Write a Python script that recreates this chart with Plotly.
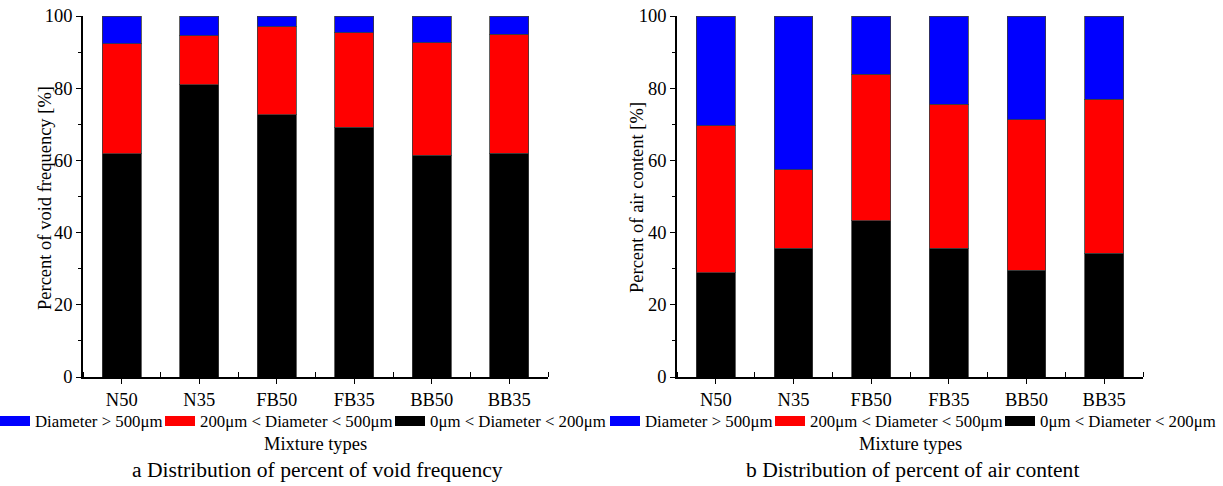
import plotly.graph_objects as go

categories = ["N50", "N35", "FB50", "FB35", "BB50", "BB35"]
series_names = ["0μm &lt; Diameter &lt; 200μm", "200μm &lt; Diameter &lt; 500μm", "Diameter &gt; 500μm"]
series_colors = ["#000000", "#ff0000", "#0000ff"]

# a: percent of void frequency
void_small = [61.9, 80.9, 72.6, 69.2, 61.4, 62.0]
void_mid = [30.4, 13.6, 24.4, 26.2, 31.2, 33.0]
void_large = [7.7, 5.5, 3.0, 4.6, 7.4, 5.0]

# b: percent of air content
air_small = [28.9, 35.7, 43.3, 35.6, 29.6, 34.3]
air_mid = [40.7, 21.7, 40.6, 39.9, 41.6, 42.7]
air_large = [30.4, 42.6, 16.1, 24.5, 28.8, 23.0]

y_ticks = [0, 20, 40, 60, 80, 100]
y_titles = ["Percent of void frequency [%]", "Percent of air content [%]"]
captions = ["a Distribution of percent of void frequency", "b Distribution of percent of air content"]
x_title = "Mixture types"

FONT = "Liberation Serif"
W, H = 1223, 486
xpos = list(range(len(categories)))


def px_x(p):
    return p / W


def px_y(p):
    return 1 - p / H


# legend text start positions (px) for each panel, in legend order: small, mid, large
legend_text_x = [[431, 201, 36], [1041, 811, 646]]

fig = go.Figure()
panels = [
    ([void_small, void_mid, void_large], "x", "y"),
    ([air_small, air_mid, air_large], "x2", "y2"),
]
legend_layouts = {}
leg_i = 0
for p, (data, xa, ya) in enumerate(panels):
    for name, vals, col in zip(series_names, data, series_colors):
        fig.add_trace(go.Bar(
            x=xpos, y=vals, name=name, xaxis=xa, yaxis=ya, showlegend=False,
            marker=dict(color=col, line=dict(color="rgba(60,60,60,0.8)", width=1)),
            width=0.5,
        ))
    # legend swatches (legend-only entries, no data drawn)
    for s, (name, col) in enumerate(zip(series_names, series_colors)):
        leg_i += 1
        key = "legend" if leg_i == 1 else f"legend{leg_i}"
        fig.add_trace(go.Scatter(
            x=[None], y=[None], mode="lines", name=name, xaxis=xa, yaxis=ya,
            legend=key, line=dict(color=col, width=10),
        ))
        legend_layouts[key] = dict(
            orientation="h", yanchor="middle", xanchor="left",
            x=px_x(legend_text_x[p][s] - 41), y=px_y(421),
            font=dict(family=FONT, size=16.8, color="black"),
            bgcolor="rgba(0,0,0,0)", borderwidth=0, itemwidth=30,
        )

xdoms = [[px_x(83), px_x(548)], [px_x(677), px_x(1143)]]
ydom = [px_y(377), px_y(16)]

common_x = dict(
    range=[-0.5, 5.5], tickvals=xpos, ticktext=categories,
    showline=True, linecolor="black", linewidth=1.5,
    ticks="outside", ticklen=5, tickcolor="black", tickwidth=1,
    showgrid=False, zeroline=False, automargin=False,
    tickfont=dict(family=FONT, size=18.5, color="black"),
    minor=dict(tick0=0.5, dtick=1, ticks="inside", ticklen=5, tickcolor="black", tickwidth=1),
    fixedrange=True,
)
common_y = dict(
    range=[0, 100], tickvals=y_ticks, domain=ydom,
    showline=True, linecolor="black", linewidth=1.5,
    ticks="outside", ticklen=5, tickcolor="black", tickwidth=1,
    showgrid=False, zeroline=False, automargin=False,
    tickfont=dict(family=FONT, size=18.5, color="black"),
    minor=dict(dtick=10, ticks="outside", ticklen=3, tickcolor="black", tickwidth=1),
    fixedrange=True,
)

fig.update_layout(
    width=W, height=H, margin=dict(l=0, r=0, t=0, b=0, autoexpand=False),
    paper_bgcolor="white", plot_bgcolor="white",
    barmode="stack",
    font=dict(family=FONT, color="black"),
    xaxis=dict(common_x, domain=xdoms[0], anchor="y"),
    yaxis=dict(common_y, anchor="x"),
    xaxis2=dict(common_x, domain=xdoms[1], anchor="y2"),
    yaxis2=dict(common_y, anchor="x2"),
    **legend_layouts,
)

annots = []
for p in range(2):
    mid = (xdoms[p][0] + xdoms[p][1]) / 2 * W
    annots.append((x_title, mid, 444, 18.5, 0))
    annots.append((captions[p], [318, 912][p], 470, 21.6, 0))
    annots.append((y_titles[p], [45, 637][p], 198, 18.5, -90))
for text, x, y, size, ang in annots:
    fig.add_annotation(text=text, x=px_x(x), y=px_y(y), xref="paper", yref="paper",
                       showarrow=False, xanchor="center", yanchor="middle", textangle=ang,
                       font=dict(family=FONT, size=size, color="black"))

fig.write_html("out.html")
